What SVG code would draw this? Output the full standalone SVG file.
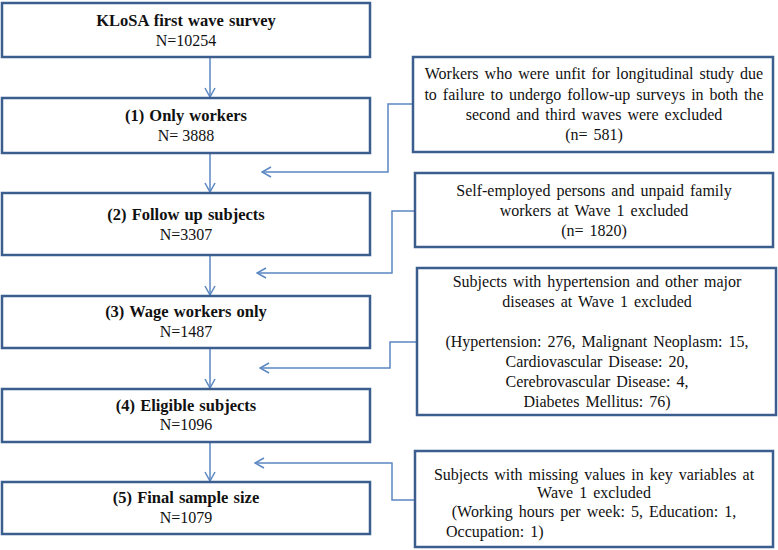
<svg xmlns="http://www.w3.org/2000/svg" width="778" height="550" viewBox="0 0 778 550">
<style>
.box{fill:#fff;stroke:#3b5e8f;stroke-width:2.5}
.t{font-family:"Liberation Serif","Times New Roman",serif;font-size:16px;fill:#111;text-anchor:middle}
.b{font-weight:bold;font-size:16.5px;word-spacing:1px}
.r{font-size:16px;word-spacing:2px}
.c{fill:none;stroke:#5b87c2;stroke-width:1.5}
</style>
<defs>
<marker id="ah" viewBox="0 0 12 12" refX="11" refY="6" markerWidth="12" markerHeight="12" markerUnits="userSpaceOnUse" orient="auto">
<path d="M2,1 L11,6 L2,11" fill="none" stroke="#5b87c2" stroke-width="1.5"/>
</marker>
</defs>
<rect width="778" height="550" fill="#fff"/>
<g id="connectors">
<line class="c" x1="210" y1="57" x2="210" y2="97" marker-end="url(#ah)"/>
<line class="c" x1="210" y1="153" x2="210" y2="192" marker-end="url(#ah)"/>
<line class="c" x1="210" y1="255" x2="210" y2="295" marker-end="url(#ah)"/>
<line class="c" x1="210" y1="348" x2="210" y2="388" marker-end="url(#ah)"/>
<line class="c" x1="210" y1="442" x2="210" y2="481" marker-end="url(#ah)"/>
<polyline class="c" points="413,104 388,104 388,172 262,172" marker-end="url(#ah)"/>
<polyline class="c" points="415,211 392,211 392,273 257,273" marker-end="url(#ah)"/>
<polyline class="c" points="417,342 390,342 390,368 260,368" marker-end="url(#ah)"/>
<polyline class="c" points="415,500 392,500 392,463 255,463" marker-end="url(#ah)"/>
</g>
<g id="n0">
<rect class="box" x="2" y="3" width="368" height="54"/>
<text class="t b" x="186" y="25.5">KLoSA first wave survey</text>
<text class="t" x="186" y="45.5">N=10254</text>
</g>
<g id="n1">
<rect class="box" x="2" y="98" width="368" height="55"/>
<text class="t b" x="186" y="121">(1) Only workers</text>
<text class="t" x="186" y="141">N= 3888</text>
</g>
<g id="n2">
<rect class="box" x="2" y="193" width="368" height="62"/>
<text class="t b" x="186" y="220">(2) Follow up subjects</text>
<text class="t" x="186" y="240">N=3307</text>
</g>
<g id="n3">
<rect class="box" x="2" y="296" width="368" height="52"/>
<text class="t b" x="186" y="317">(3) Wage workers only</text>
<text class="t" x="186" y="337">N=1487</text>
</g>
<g id="n4">
<rect class="box" x="2" y="389" width="368" height="53"/>
<text class="t b" x="186" y="411">(4) Eligible subjects</text>
<text class="t" x="186" y="430">N=1096</text>
</g>
<g id="n5">
<rect class="box" x="2" y="482" width="368" height="52"/>
<text class="t b" x="186" y="503">(5) Final sample size</text>
<text class="t" x="186" y="523">N=1079</text>
</g>
<g id="e1">
<rect class="box" x="413" y="57" width="360" height="95"/>
<text class="t r" x="594" y="79">Workers who were unfit for longitudinal study due</text>
<text class="t r" x="594" y="100">to failure to undergo follow-up surveys in both the</text>
<text class="t r" x="594" y="120">second and third waves were excluded</text>
<text class="t r" x="594" y="140">(n= 581)</text>
</g>
<g id="e2">
<rect class="box" x="415" y="173" width="358" height="74"/>
<text class="t r" x="594" y="196">Self-employed persons and unpaid family</text>
<text class="t r" x="594" y="216">workers at Wave 1 excluded</text>
<text class="t r" x="594" y="236">(n= 1820)</text>
</g>
<g id="e3">
<rect class="box" x="417" y="268" width="359" height="147"/>
<text class="t r" x="597" y="287">Subjects with hypertension and other major</text>
<text class="t r" x="597" y="307">diseases at Wave 1 excluded</text>
<text class="t r" x="597" y="347">(Hypertension: 276, Malignant Neoplasm: 15,</text>
<text class="t r" x="597" y="367">Cardiovascular Disease: 20,</text>
<text class="t r" x="597" y="387">Cerebrovascular Disease: 4,</text>
<text class="t r" x="597" y="407">Diabetes Mellitus: 76)</text>
</g>
<g id="e4">
<rect class="box" x="415" y="451" width="358" height="96"/>
<text class="t r" x="594" y="480">Subjects with missing values in key variables at</text>
<text class="t r" x="594" y="498">Wave 1 excluded</text>
<text class="t r" x="594" y="517">(Working hours per week: 5, Education: 1,</text>
<text class="t r" x="446" y="537" style="text-anchor:start">Occupation: 1)</text>
</g>
</svg>
